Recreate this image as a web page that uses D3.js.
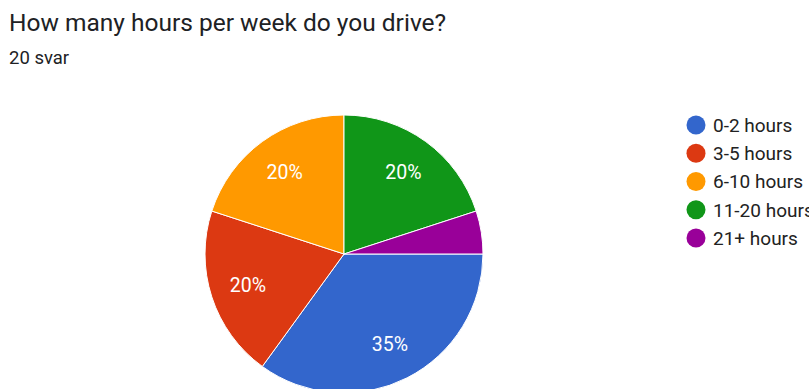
<!DOCTYPE html>
<html>
<head>
<meta charset="utf-8">
<script src="https://cdn.jsdelivr.net/npm/d3@7"></script>
<style>
  html, body { margin: 0; padding: 0; background: #fff; }
  svg { display: block; font-family: Roboto, Arial, sans-serif; }
</style>
</head>
<body>
<svg id="chart" width="809" height="389"></svg>
<script>
// Survey answers
const categories = ["0-2 hours", "3-5 hours", "6-10 hours", "11-20 hours", "21+ hours"];
const counts = [7, 4, 4, 4, 1];
const colors = ["#3366cc", "#dc3912", "#ff9900", "#109618", "#990099"];
const title = "How many hours per week do you drive?";
const subtitle = "20 svar";

const svg = d3.select("#chart");

svg.append("text")
  .attr("x", 9).attr("y", 31)
  .attr("font-size", 24.5)
  .attr("fill", "#202124")
  .text(title);

svg.append("text")
  .attr("x", 9).attr("y", 64)
  .attr("font-size", 18.5)
  .attr("fill", "#202124")
  .text(subtitle);

const cx = 344, cy = 254, r = 139;
const total = d3.sum(counts);

// Slices run clockwise, the first one starting at three o'clock
const pie = d3.pie()
  .sort(null)
  .startAngle(Math.PI / 2)
  .endAngle(Math.PI / 2 + 2 * Math.PI);

const arcs = pie(counts);
const arc = d3.arc().innerRadius(0).outerRadius(r);
const labelArc = d3.arc().innerRadius(101).outerRadius(101);

const g = svg.append("g").attr("transform", `translate(${cx},${cy})`);

g.selectAll("path.slice")
  .data(arcs)
  .join("path")
  .attr("class", "slice")
  .attr("d", arc)
  .attr("fill", (d, i) => colors[i])
  .attr("stroke", "#fff")
  .attr("stroke-width", 1);

const pct = d3.format(".0%");
g.selectAll("text.lbl")
  .data(arcs.filter(d => d.data / total >= 0.1))
  .join("text")
  .attr("class", "lbl")
  .attr("transform", d => `translate(${labelArc.centroid(d)})`)
  .attr("text-anchor", "middle")
  .attr("dy", "0.36em")
  .attr("font-size", 19.5)
  .attr("fill", "#fff")
  .text(d => pct(d.data / total));

// Legend
const legend = svg.append("g").attr("transform", "translate(696,125)");
const y = d3.scalePoint().domain(categories).range([0, 113]);
const items = legend.selectAll("g")
  .data(categories)
  .join("g")
  .attr("transform", d => `translate(0,${y(d)})`);
items.append("circle")
  .attr("r", 9.5)
  .attr("fill", (d, i) => colors[i]);
items.append("text")
  .attr("x", 17)
  .attr("dy", "0.36em")
  .attr("font-size", 19)
  .attr("fill", "#222")
  .text(d => d);
</script>
</body>
</html>
